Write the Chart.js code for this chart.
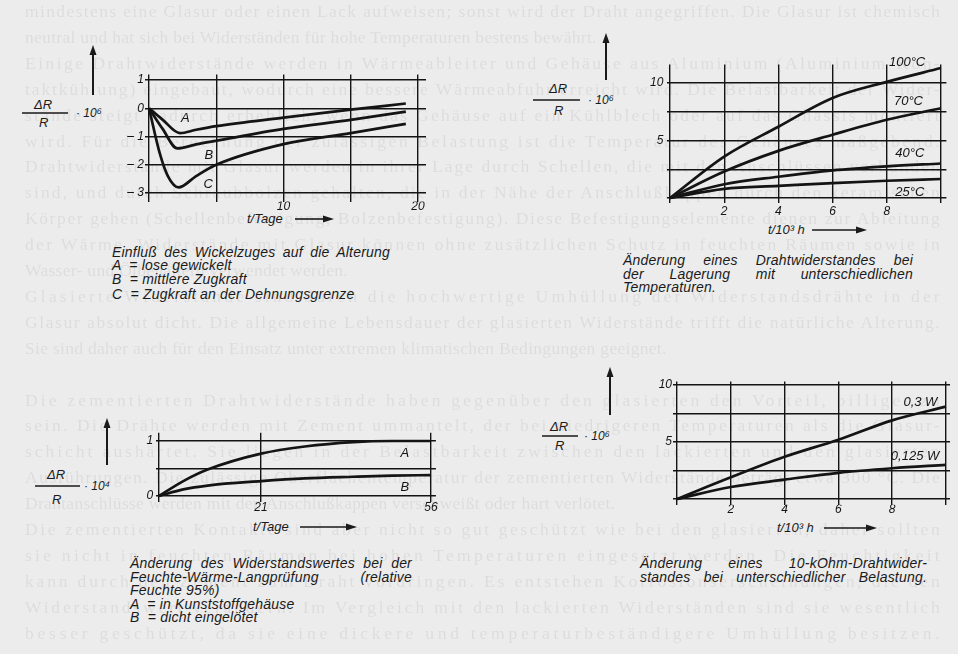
<!DOCTYPE html>
<html><head><meta charset="utf-8">
<script src="https://cdn.jsdelivr.net/npm/chart.js@4.4.0/dist/chart.umd.min.js"></script>
<style>
html,body{margin:0;padding:0;}
body{width:958px;height:654px;background:#ececec;position:relative;overflow:hidden;font-family:"Liberation Sans",Arial,sans-serif;}
.bg{position:absolute;font:17.5px "Liberation Serif","DejaVu Serif",serif;color:rgba(0,0,0,0.065);white-space:pre;line-height:20px;letter-spacing:0.3px;filter:blur(0.5px);}
.t{position:absolute;font-style:italic;color:#1a1a1a;white-space:pre;line-height:14px;font-size:14px;letter-spacing:0.2px;}
.ax{position:absolute;font-style:italic;color:#1a1a1a;white-space:pre;line-height:14px;font-size:13px;}
canvas{position:absolute;}
svg{position:absolute;left:0;top:0;}
</style></head>
<body>
<svg id="deco" width="958" height="654"></svg>
<canvas id="c1" width="345" height="170" style="left:95px;top:55px;width:345px;height:170px"></canvas>
<canvas id="c2" width="338" height="185" style="left:620px;top:40px;width:338px;height:185px"></canvas>
<canvas id="c3" width="340" height="100" style="left:110px;top:420px;width:340px;height:100px"></canvas>
<canvas id="c4" width="333" height="160" style="left:625px;top:365px;width:333px;height:160px"></canvas>
<script>
// ---------- DATA ----------
// Chart 1: Einfluß des Wickelzuges auf die Alterung (ΔR/R·10^6 over t/Tage)
const wickelA_t = [0, 1, 2.3, 3.5, 5, 10, 15, 19.1];
const wickelA   = [0, -0.4, -0.88, -0.76, -0.63, -0.33, -0.05, 0.17];
const wickelB_t = [0, 1, 2.1, 3.5, 5, 10, 15, 19.1];
const wickelB   = [0, -0.72, -1.42, -1.28, -1.15, -0.73, -0.41, -0.12];
const wickelC_t = [0, 0.8, 1.4, 2.2, 3.5, 5, 10, 15, 19.1];
const wickelC   = [0, -1.6, -2.4, -2.8, -2.4, -2.0, -1.27, -0.88, -0.55];
const wickelXTicks = [0, 5, 10, 15, 20];
const wickelXShown = [10, 20];
const wickelYTicks = [1, 0, -1, -2, -3];
const wickelYShown = [1, 0, -1, -2, -3];

// Chart 2: Lagerung bei unterschiedlichen Temperaturen (ΔR/R·10^6 over t/10^3 h)
const lagerT   = [0, 2, 4, 6, 8, 10];
const lager100 = [0, 3.6, 6.2, 8.7, 10.1, 11.3];
const lager70  = [0, 2.3, 4.1, 5.5, 6.8, 7.8];
const lager40  = [0, 1.2, 1.85, 2.4, 2.75, 3.0];
const lager25  = [0, 0.8, 1.05, 1.3, 1.5, 1.65];
const lagerNames = ['100°C', '70°C', '40°C', '25°C'];
const lagerXTicks = [0, 2, 4, 6, 8, 10];
const lagerXShown = [2, 4, 6, 8];
const lagerYTicks = [0, 2.5, 5, 7.5, 10];
const lagerYShown = [5, 10];

// Chart 3: Feuchte-Wärme-Langprüfung (ΔR/R·10^4 over t/Tage)
const feuchteT = [0, 5, 10, 21, 30, 40, 48, 56];
const feuchteA = [0, 0.27, 0.48, 0.77, 0.9, 0.98, 1.0, 1.0];
const feuchteB = [0, 0.12, 0.19, 0.27, 0.32, 0.35, 0.37, 0.38];
const feuchteXTicks = [0, 21, 56];
const feuchteXShown = [21, 56];
const feuchteYTicks = [0, 0.5, 1];
const feuchteYShown = [0, 1];

// Chart 4: Belastung (ΔR/R·10^6 over t/10^3 h)
const lastT    = [0, 2, 4, 6, 8, 10];
const last03   = [0, 1.9, 3.7, 5.2, 6.9, 8.1];
const last0125 = [0, 1.05, 1.7, 2.3, 2.7, 3.0];
const lastNames = ['0,3 W', '0,125 W'];
const lastXTicks = [0, 2, 4, 6, 8, 10];
const lastXShown = [2, 4, 6, 8];
const lastYTicks = [0, 2.5, 5, 7.5, 10];
const lastYShown = [5, 10];

// ---------- RENDERING ----------
const INK = '#141414';
const TICKFONT = {family: '"Liberation Sans", Arial, sans-serif', size: 12, style: 'italic'};

const curveLabels = {
  id: 'curveLabels',
  afterDatasetsDraw(chart, args, opts) {
    const items = opts.items || [];
    const ctx = chart.ctx, xs = chart.scales.x, ys = chart.scales.y;
    ctx.save();
    ctx.font = 'italic 13px "Liberation Sans", Arial, sans-serif';
    ctx.fillStyle = INK;
    ctx.textAlign = 'center';
    ctx.textBaseline = 'middle';
    items.forEach(it => ctx.fillText(it.text, xs.getPixelForValue(it.x), ys.getPixelForValue(it.y)));
    ctx.restore();
  }
};

function fmt(v) {
  if (v < 0) return '– ' + Math.abs(v);
  return String(v);
}

function series(ts, vs) { return ts.map((t, i) => ({x: t, y: vs[i]})); }

function makeChart(id, g, datasets, xs, ys, labels) {
  return new Chart(document.getElementById(id), {
    type: 'scatter',
    data: {datasets: datasets.map(d => ({
      data: d, showLine: true, borderColor: INK, borderWidth: 2.7,
      pointRadius: 0, fill: false, cubicInterpolationMode: 'monotone'
    }))},
    options: {
      responsive: false, animation: false, devicePixelRatio: 1,
      layout: {padding: {left: 0, right: g.padR, top: g.padT, bottom: 0}},
      plugins: {legend: {display: false}, tooltip: {enabled: false}, curveLabels: {items: labels}},
      scales: {
        x: {
          type: 'linear', min: xs.min, max: xs.max,
          afterBuildTicks: s => { s.ticks = xs.ticks.map(v => ({value: v})); },
          afterFit: s => { s.height = g.xH; },
          grid: {color: INK, lineWidth: 1.4, drawTicks: false},
          border: {display: false},
          ticks: {autoSkip: false, maxRotation: 0, padding: xs.pad, color: INK, font: TICKFONT,
                  callback: v => xs.shown.includes(v) ? fmt(v) : ''}
        },
        y: {
          type: 'linear', min: ys.min, max: ys.max,
          afterBuildTicks: s => { s.ticks = ys.ticks.map(v => ({value: v})); },
          afterFit: s => { s.width = g.yW; },
          grid: {color: INK, lineWidth: 1.4, drawTicks: false},
          border: {display: false},
          ticks: {autoSkip: false, padding: ys.pad, color: INK, font: TICKFONT,
                  callback: v => ys.shown.includes(v) ? fmt(v) : ''}
        }
      }
    },
    plugins: [curveLabels]
  });
}

makeChart('c1', {yW: 50, xH: 23.5, padR: 14, padT: 19.4},
  [series(wickelA_t, wickelA), series(wickelB_t, wickelB), series(wickelC_t, wickelC)],
  {min: -0.3, max: 20.6, ticks: wickelXTicks, shown: wickelXShown, pad: -2},
  {min: -3.3, max: 1.2, ticks: wickelYTicks, shown: wickelYShown, pad: 1},
  [{text: 'A', x: 2.7, y: -0.35}, {text: 'B', x: 4.45, y: -1.66}, {text: 'C', x: 4.4, y: -2.69}]);

makeChart('c2', {yW: 47.3, xH: 22.4, padR: 11.6, padT: 24.6},
  [series(lagerT, lager100), series(lagerT, lager70), series(lagerT, lager40), series(lagerT, lager25)],
  {min: -0.1, max: 10.2, ticks: lagerXTicks, shown: lagerXShown, pad: 2},
  {min: -0.4, max: 11.6, ticks: lagerYTicks, shown: lagerYShown, pad: 4},
  [{text: lagerNames[0], x: 8.75, y: 11.8}, {text: lagerNames[1], x: 8.8, y: 8.4},
   {text: lagerNames[2], x: 8.85, y: 3.85}, {text: lagerNames[3], x: 8.85, y: 0.45}]);

makeChart('c3', {yW: 46.1, xH: 18.5, padR: 14.1, padT: 12.75},
  [series(feuchteT, feuchteA), series(feuchteT, feuchteB)],
  {min: -0.6, max: 57, ticks: feuchteXTicks, shown: feuchteXShown, pad: -1},
  {min: -0.1, max: 1.15, ticks: feuchteYTicks, shown: feuchteYShown, pad: 3},
  [{text: 'A', x: 50.6, y: 0.78}, {text: 'B', x: 50.6, y: 0.16}]);

makeChart('c4', {yW: 48, xH: 20.3, padR: 8, padT: 16.6},
  [series(lastT, last03), series(lastT, last0125)],
  {min: -0.15, max: 10.15, ticks: lastXTicks, shown: lastXShown, pad: -2},
  {min: -0.5, max: 10.3, ticks: lastYTicks, shown: lastYShown, pad: 1},
  [{text: lastNames[0], x: 9.05, y: 8.5}, {text: lastNames[1], x: 8.85, y: 3.7}]);

// ---------- TEXT & DECORATION ----------
function put(cls, txt, left, cy, w, mode, size) {
  const d = document.createElement('div');
  d.className = cls;
  d.textContent = txt;
  if (size) d.style.fontSize = size + 'px';
  const lh = cls === 'bg' ? 20 : 14;
  d.style.left = left + 'px';
  d.style.top = (cy - lh / 2) + 'px';
  document.body.insertBefore(d, document.getElementById('deco'));
  if (w) {
    const nat = d.getBoundingClientRect().width;
    const gaps = (txt.match(/ /g) || []).length;
    if (mode === 'letters') {
      const cur = parseFloat(getComputedStyle(d).letterSpacing) || 0;
      const ls = cur + (w - nat) / Math.max(1, txt.length - 1);
      if (ls >= -0.8) d.style.letterSpacing = ls + 'px';
      else { d.style.transformOrigin = 'left center'; d.style.transform = 'scaleX(' + (w / nat) + ')'; }
    } else if (mode === 'justify' && nat < w && gaps) {
      d.style.wordSpacing = ((w - nat) / gaps) + 'px';
    } else if (nat > w) {
      d.style.transformOrigin = 'left center';
      d.style.transform = 'scaleX(' + (w / nat) + ')';
    }
  }
  return d;
}

const bodyLines = [
  ['mindestens eine Glasur oder einen Lack aufweisen; sonst wird der Draht angegriffen. Die Glasur ist chemisch', 1],
  ['neutral und hat sich bei Widerständen für hohe Temperaturen bestens bewährt.', 0],
  ['Einige Drahtwiderstände werden in Wärmeableiter und Gehäuse aus Aluminium (Aluminium-Kon-', 1],
  ['taktkühlung) eingebaut, wodurch eine bessere Wärmeabfuhr erreicht wird. Die Belastbarkeit der Wider-', 1],
  ['stände steigt dadurch erheblich, wenn das Gehäuse auf ein Kühlblech oder auf das Chassis montiert', 1],
  ['wird. Für die Berechnung der zulässigen Belastung ist die Temperatur des Gehäuses maßgebend.', 1],
  ['Drahtwiderstände mit Glasur werden in ihrer Lage durch Schellen, die mit den Anschlüssen verbunden', 1],
  ['sind, und durch Schraubbolzen gehalten, die in der Nähe der Anschlußkappen durch den keramischen', 1],
  ['Körper gehen (Schellenbefestigung, Bolzenbefestigung). Diese Befestigungselemente dienen zur Ableitung', 1],
  ['der Wärme. Widerstände mit Glasur können ohne zusätzlichen Schutz in feuchten Räumen sowie in', 1],
  ['Wasser- und Ölbehältern verwendet werden.', 0],
  ['Glasierte Widerstände sind durch die hochwertige Umhüllung der Widerstandsdrähte in der', 1],
  ['Glasur absolut dicht. Die allgemeine Lebensdauer der glasierten Widerstände trifft die natürliche Alterung.', 1],
  ['Sie sind daher auch für den Einsatz unter extremen klimatischen Bedingungen geeignet.', 0],
  ['', 0],
  ['Die zementierten Drahtwiderstände haben gegenüber den glasierten den Vorteil, billiger zu', 1],
  ['sein. Die Drähte werden mit Zement ummantelt, der bei niedrigeren Temperaturen als die Glasur-', 1],
  ['schicht aushärtet. Sie liegen in der Belastbarkeit zwischen den lackierten und den glasierten', 1],
  ['Ausführungen. Die zulässige Oberflächentemperatur der zementierten Widerstände beträgt etwa 300 °C. Die', 1],
  ['Drahtanschlüsse werden mit den Anschlußkappen verschweißt oder hart verlötet.', 0],
  ['Die zementierten Kontakte sind aber nicht so gut geschützt wie bei den glasierten, daher sollten', 1],
  ['sie nicht in feuchten Räumen bei hohen Temperaturen eingesetzt werden. Die Feuchtigkeit', 1],
  ['kann durch den Zement zum Draht vordringen. Es entstehen Korrosionserscheinungen, die den', 1],
  ['Widerstandswert verändern. Im Vergleich mit den lackierten Widerständen sind sie wesentlich', 1],
  ['besser geschützt, da sie eine dickere und temperaturbeständigere Umhüllung besitzen.', 1]
];
bodyLines.forEach((l, i) => { if (l[0]) put('bg', l[0], 25, 11 + 25.9 * i, l[1] ? 915 : 0, 'letters'); });

// axis titles
function frac(cx, cyTop, cyBot, barY, barX1, barX2, expX, exp) {
  put('ax', 'ΔR', cx - 10, cyTop, 0, '', 13);
  put('ax', 'R', cx - 5, cyBot, 0, '', 13);
  put('ax', '· 10' + exp, expX, barY, 0, '', 12);
  return `<line x1="${barX1}" y1="${barY}" x2="${barX2}" y2="${barY}" stroke="#1a1a1a" stroke-width="1.3"/>`;
}
let svg = '';
svg += frac(44, 105, 123, 113, 22, 68, 76, '⁶');
svg += frac(559, 89, 111, 100, 533, 580, 588, '⁶');
svg += frac(57, 475, 500, 486, 35, 80, 84, '⁴');
svg += frac(560, 427, 446, 436, 542, 578, 584, '⁶');

function vArrow(x, yb, yt) {
  return `<line x1="${x}" y1="${yb}" x2="${x}" y2="${yt + 8}" stroke="#1a1a1a" stroke-width="2"/>` +
         `<polygon points="${x - 3.5},${yt + 10} ${x + 3.5},${yt + 10} ${x},${yt}" fill="#1a1a1a"/>`;
}
function hArrow(x1, x2, y) {
  return `<line x1="${x1}" y1="${y}" x2="${x2 - 8}" y2="${y}" stroke="#1a1a1a" stroke-width="1.6"/>` +
         `<polygon points="${x2 - 11},${y - 3.5} ${x2 - 11},${y + 3.5} ${x2},${y}" fill="#1a1a1a"/>`;
}
svg += vArrow(93, 95, 45) + vArrow(606, 80, 33) + vArrow(107, 465, 418) + vArrow(610, 415, 367);
svg += hArrow(295, 334, 219) + hArrow(812, 867, 230) + hArrow(300, 357, 527) + hArrow(824, 877, 528);
document.getElementById('deco').innerHTML = svg;

put('ax', 't/Tage', 247, 219, 0, '', 13);
put('ax', 't/10³ h', 768, 230, 0, '', 13);
put('ax', 't/Tage', 253, 527, 0, '', 13);
put('ax', 't/10³ h', 777, 528, 0, '', 13);

// captions
put('t', 'Einfluß des Wickelzuges auf die Alterung', 112, 252, 278, 'justify');
put('t', 'A  = lose gewickelt', 112, 265);
put('t', 'B  = mittlere Zugkraft', 112, 279);
put('t', 'C  = Zugkraft an der Dehnungsgrenze', 112, 294);

put('t', 'Änderung eines Drahtwiderstandes bei', 623, 260, 290, 'justify');
put('t', 'der Lagerung mit unterschiedlichen', 623, 273.5, 290, 'justify');
put('t', 'Temperaturen.', 623, 287);

put('t', 'Änderung des Widerstandswertes bei der', 130, 563, 282, 'justify');
put('t', 'Feuchte-Wärme-Langprüfung (relative', 130, 576.5, 282, 'justify');
put('t', 'Feuchte 95%)', 130, 590);
put('t', 'A  = in Kunststoffgehäuse', 130, 603.5);
put('t', 'B  = dicht eingelötet', 130, 617);

put('t', 'Änderung eines 10-kOhm-Drahtwider-', 640, 563, 287, 'justify');
put('t', 'standes bei unterschiedlicher Belastung.', 640, 577, 287, 'justify');
</script>
</body></html>
